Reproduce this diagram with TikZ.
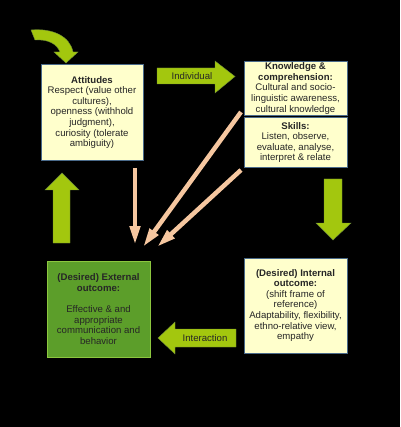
\documentclass[tikz,border=0pt]{standalone}
\usepackage{fontspec}
\setmainfont{Liberation Sans}
\usetikzlibrary{arrows.meta,calc}
\definecolor{lime}{HTML}{A3C70E}
\definecolor{limeedge}{HTML}{6E8C3A}
\definecolor{boxyellow}{HTML}{FFFFCC}
\definecolor{boxedge}{HTML}{4A6A8A}
\definecolor{extgreen}{HTML}{5C9E2A}
\definecolor{extedge}{HTML}{8CC63F}
\definecolor{peach}{HTML}{F6C7A0}
\definecolor{txt}{HTML}{262626}
\begin{document}
\begin{tikzpicture}[x=1pt,y=-1pt,
  txtstyle/.style={font=\fontsize{9.6}{10.6}\selectfont, text=txt, align=center, inner sep=0pt},
  ybox/.style={draw=boxedge, line width=0.8pt, fill=boxyellow},
  gbox/.style={draw=extedge, line width=0.8pt, fill=extgreen},
  blockarrow/.style={fill=lime, draw=limeedge, line width=0.4pt},
  thinarrow/.style={draw=peach, line width=4.5pt, -{Triangle[width=10pt,length=19pt]}}]
\useasboundingbox (0,0) rectangle (400,427);
\fill[black] (0,0) rectangle (400,427);

% boxes
\draw[ybox] (41,64) rectangle (143,160);
\node[txtstyle] (att) at (92,112.5) {\textbf{Attitudes}\\Respect (value other\\cultures),\\openness (withhold\\judgment),\\curiosity (tolerate\\ambiguity)};
\draw[ybox] (244,61) rectangle (347,115);
\node[txtstyle] (know) at (295.5,88.5) {\textbf{Knowledge \&}\\\textbf{comprehension:}\\Cultural and socio-\\linguistic awareness,\\cultural knowledge};
\draw[ybox] (244,117) rectangle (347,167);
\node[txtstyle] (skills) at (295.5,142.5) {\textbf{Skills:}\\Listen, observe,\\evaluate, analyse,\\interpret \& relate};
\draw[ybox] (244,258) rectangle (347,353);
\node[txtstyle] (int) at (295.5,305.5) {\textbf{(Desired) Internal}\\\textbf{outcome:}\\(shift frame of\\reference)\\Adaptability, flexibility,\\ethno-relative view,\\empathy};
\draw[gbox] (47,261) rectangle (150,357);
\node[txtstyle] (ext) at (98.5,309) {\textbf{(Desired) External}\\\textbf{outcome:}\\[10.6pt]Effective \& and\\appropriate\\communication and\\behavior};

% block arrows
\draw[blockarrow] (157,68) -- (215,68) -- (215,61) -- (235,76.5) -- (215,93) -- (215,84) -- (157,84) -- cycle;
\node[txtstyle] (indiv) at (192,76.5) {Individual};
\draw[blockarrow] (236,329) -- (175,329) -- (175,322) -- (158,338) -- (175,354) -- (175,347) -- (236,347) -- cycle;
\node[txtstyle] (inter) at (205,338.5) {Interaction};
\draw[blockarrow] (324,179) -- (342,179) -- (342,223) -- (351,223) -- (333,240) -- (316,223) -- (324,223) -- cycle;
\draw[blockarrow] (53,243) -- (70,243) -- (70,190) -- (79,190) -- (62,173) -- (45,190) -- (53,190) -- cycle;
% curved arrow
\draw[blockarrow] (31,30) .. controls (52,28) and (70,36) .. (73,52) -- (78,52) -- (66,63) -- (54,52) -- (60,52) .. controls (57,44) and (48,39) .. (35,40) -- cycle;

% thin peach arrows
\coordinate (a1s) at (135,168);
\coordinate (a1e) at (135,245);
\coordinate (a2s) at (241,112);
\coordinate (a2e) at (143,247);
\coordinate (a3s) at (241,170);
\coordinate (a3e) at (157,247);
\draw[thinarrow] (a1s) -- (a1e);
\draw[thinarrow] (a2s) -- (a2e);
\draw[thinarrow] (a3s) -- (a3e);
\end{tikzpicture}
\end{document}
